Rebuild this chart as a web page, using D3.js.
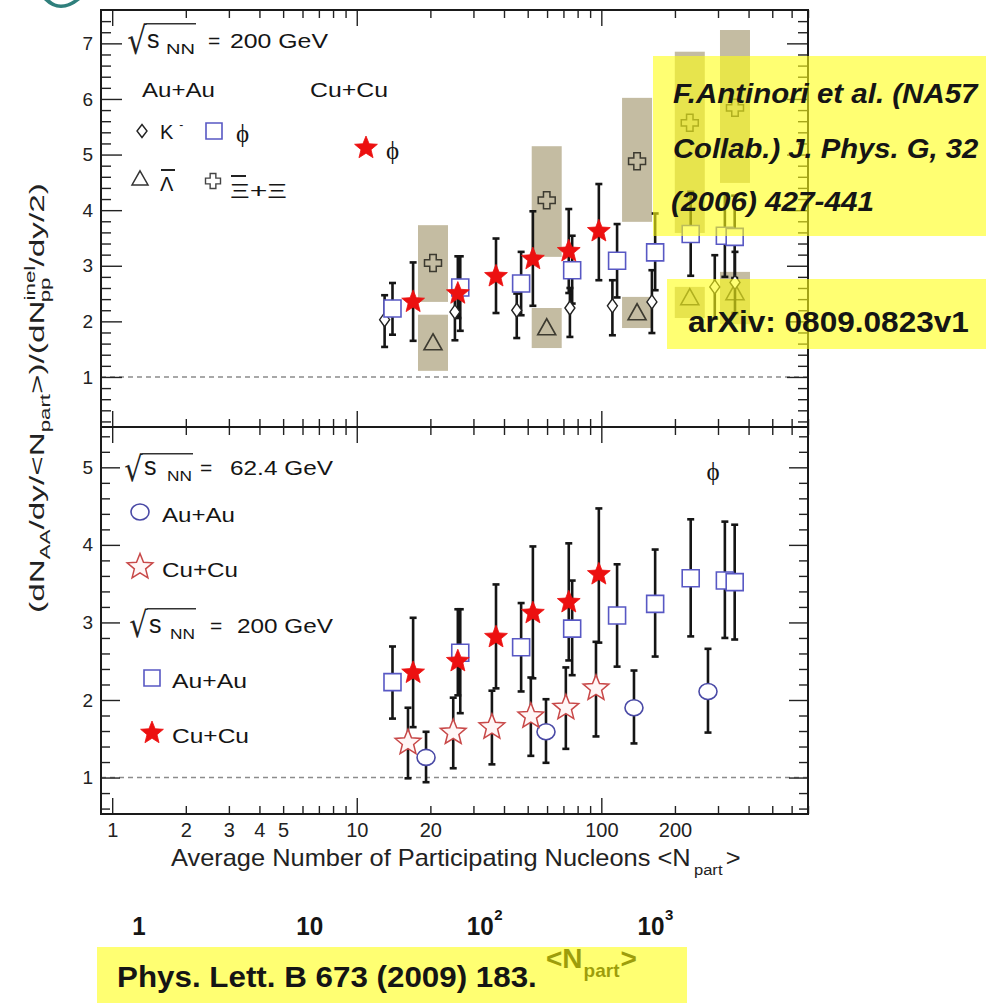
<!DOCTYPE html>
<html><head><meta charset="utf-8">
<script src="https://cdn.jsdelivr.net/npm/d3@7/dist/d3.min.js"></script>
<style>html,body{margin:0;padding:0;background:#fff;}svg{display:block;}</style>
</head><body>
<svg id="chart" width="986" height="1003"></svg>
<script>
// ---------------- data ----------------
const yTickLabelsTop = ["1","2","3","4","5","6","7"];
const yTickLabelsBottom = ["1","2","3","4","5"];
const xTickLabels = ["1","2","3","4","5","10","20","100","200"];
const npartAxisLabels = ["1","10","10","10"];
const npartAxisExponents = ["","","2","3"];

// STAR phi, Au+Au 200 GeV
const npartAuAu200 = [14, 26.5, 47, 76, 116, 166, 232, 320, 351];
const phiAuAu200   = [2.23, 2.61, 2.68, 2.92, 3.09, 3.24, 3.57, 3.54, 3.52];
const phiAuAu200Hi = [2.69, 3.17, 3.25, 3.54, 3.75, 3.94, 4.33, 4.30, 4.26];
const phiAuAu200Lo = [1.76, 1.83, 2.11, 2.32, 2.43, 2.56, 2.82, 2.80, 2.78];
// STAR phi, Cu+Cu 200 GeV
const npartCuCu200 = [17, 25.9, 37.1, 52.5, 73.6, 97.7];
const phiCuCu200   = [2.35, 2.50, 2.81, 3.12, 3.26, 3.62];
const phiCuCu200Hi = [3.06, 3.17, 3.49, 3.98, 4.02, 4.47];
const phiCuCu200Lo = [1.65, 2.06, 2.15, 2.28, 2.51, 2.74];
// STAR phi, Cu+Cu 62.4 GeV
const npartCuCu62 = [16.2, 24.8, 35.7, 51.5, 71.6, 95.1];
const phiCuCu62   = [1.45, 1.58, 1.65, 1.79, 1.90, 2.15];
const phiCuCu62Hi = [1.90, 2.03, 2.12, 2.29, 2.42, 2.75];
const phiCuCu62Lo = [0.99, 1.12, 1.17, 1.28, 1.37, 1.53];
// STAR phi, Au+Au 62.4 GeV
const npartAuAu62 = [19.2, 59.4, 136, 273];
const phiAuAu62   = [1.26, 1.59, 1.90, 2.11];
const phiAuAu62Hi = [1.59, 2.01, 2.38, 2.66];
const phiAuAu62Lo = [0.94, 1.19, 1.44, 1.58];
// STAR K-, Au+Au 200 GeV
const npartKminus = [13, 25.2, 45.1, 74.4, 111, 161, 291, 352];
const kMinus   = [2.03, 2.17, 2.20, 2.24, 2.28, 2.35, 2.62, 2.70];
const kMinusHi = [2.47, 2.56, 2.50, 2.60, 2.74, 2.92, 3.19, 3.25];
const kMinusLo = [1.54, 1.66, 1.70, 1.72, 1.75, 1.79, 2.05, 2.15];
// NA57 (overlay): Xi+antiXi and anti-Lambda with systematic bands
const na57Npart = [20.5, 59.8, 140, 230, 352];
const xiVal = [3.05, 4.18, 4.88, 5.57, 5.84];
const xiLo  = [2.35, 3.16, 3.79, 3.59, 4.49];
const xiHi  = [3.73, 5.15, 6.02, 6.85, 7.24];
const lamVal = [1.61, 1.88, 2.15, 2.42, 2.51];
const lamLo  = [1.11, 1.52, 1.88, 2.06, 1.95];
const lamHi  = [2.12, 2.24, 2.44, 2.62, 2.89];

// ---------------- setup ----------------
const svg = d3.select("#chart");
const FONT = "'Liberation Sans', Arial, Helvetica, sans-serif";
const SERIF = "'Liberation Serif', 'DejaVu Serif', 'Times New Roman', serif";
const L = 101, R = 808;
const xs = d3.scaleLog().domain([0.9, 700]).range([L, R]);
const yTop = d3.scaleLinear().domain([0.1, 7.6]).range([427, 10]);
const yBot = d3.scaleLinear().domain([0.53, 5.52]).range([814, 427]);
const xNpart = d3.scaleLog().domain([1, 1000]).range([139, 651]);

const C = {
  blue: "#5858c4", circle: "#4a4aa6", red: "#ec1010", hollow: "#c84848",
  tan: "#c4bca2", nmark: "#3c3a30", ink: "#151515", dash: "#8c8c8c",
  yellow: "rgb(255,255,20)"
};

// shapes
function starD(Ro, ratio) {
  let p = "";
  for (let i = 0; i < 10; i++) {
    const a = -Math.PI / 2 + i * Math.PI / 5, rr = i % 2 ? Ro * ratio : Ro;
    p += (i ? "L" : "M") + (rr * Math.cos(a)).toFixed(2) + "," + (rr * Math.sin(a)).toFixed(2);
  }
  return p + "Z";
}
const crossD = s => { const a = s / 2, b = s * 0.19;
  return `M${-b},${-a}H${b}V${-b}H${a}V${b}H${b}V${a}H${-b}V${b}H${-a}V${-b}H${-b}Z`; };
const triD = (w, h) => `M0,${-h * 0.58}L${w / 2},${h * 0.42}L${-w / 2},${h * 0.42}Z`;
const diaD = (w, h) => `M0,${-h / 2}L${w / 2},0L0,${h / 2}L${-w / 2},0Z`;
const sqD = s => `M${-s / 2},${-s / 2}H${s / 2}V${s / 2}H${-s / 2}Z`;

function marker(g, d, x, y, stroke, fill, sw) {
  g.append("path").attr("d", d).attr("transform", `translate(${x},${y})`)
    .attr("fill", fill).attr("stroke", stroke).attr("stroke-width", sw || 1.6)
    .attr("stroke-linejoin", "miter");
}

function addText(parent, x, y, parts, o) {
  o = o || {};
  const g = parent.append("g").attr("transform", `translate(${x},${y})`);
  const t = g.append("text").attr("font-family", o.family || FONT)
    .attr("font-size", o.size || 20).attr("text-anchor", o.anchor || "start")
    .attr("fill", o.fill || C.ink).style("white-space", "pre");
  if (o.weight) t.attr("font-weight", o.weight);
  if (o.italic) t.attr("font-style", "italic");
  if (typeof parts === "string") parts = [{ t: parts }];
  parts.forEach(p => {
    const ts = t.append("tspan").text(p.t);
    if (p.size) ts.attr("font-size", p.size);
    if (p.dy) ts.attr("dy", p.dy);
    if (p.dx) ts.attr("dx", p.dx);
    if (p.family) ts.attr("font-family", p.family);
  });
  if (o.width) {
    const bw = t.node().getBBox().width;
    if (bw > 0) t.attr("transform", `scale(${o.width / bw},1)`);
  }
  return { g, t };
}

// place a glyph so that its ink fills a given box
const measureCtx = document.createElement("canvas").getContext("2d");
function glyphInBox(parent, str, family, x0, x1, y0, y1, fill) {
  const S0 = 40;
  measureCtx.font = `${S0}px ${family}`;
  const m = measureCtx.measureText(str);
  const h = m.actualBoundingBoxAscent + m.actualBoundingBoxDescent;
  const S = S0 * (y1 - y0) / h;
  const f = S / S0;
  const w = (m.actualBoundingBoxLeft + m.actualBoundingBoxRight) * f;
  const k = (x1 - x0) / w;
  const g = parent.append("g").attr("transform", `translate(${x0},0) scale(${k},1)`);
  g.append("text").attr("x", m.actualBoundingBoxLeft * f).attr("y", y0 + m.actualBoundingBoxAscent * f)
    .attr("font-family", family).attr("font-size", S).attr("fill", fill || "#222").text(str);
}

// ---------------- panel helper ----------------
function drawFrame(g, y, y0, y1, yMaj, yMin, yLabels, majLen, minLen) {
  const xMaj = [1, 10, 100];
  const xMin = [];
  [1, 10, 100].forEach(d => { for (let k = 2; k <= 9; k++) if (d * k <= 700) xMin.push(d * k); });
  const style = sel => { sel.select(".domain").remove(); sel.selectAll("line").attr("stroke", "#222").attr("stroke-width", 1.4); sel.selectAll("text").remove(); };
  g.append("g").attr("transform", `translate(0,${y0})`).call(d3.axisBottom(xs).tickValues(xMaj).tickSize(-16)).call(style);
  g.append("g").attr("transform", `translate(0,${y0})`).call(d3.axisBottom(xs).tickValues(xMin).tickSize(-8)).call(style);
  g.append("g").attr("transform", `translate(0,${y1})`).call(d3.axisTop(xs).tickValues(xMaj).tickSize(-16)).call(style);
  g.append("g").attr("transform", `translate(0,${y1})`).call(d3.axisTop(xs).tickValues(xMin).tickSize(-8)).call(style);
  g.append("g").attr("transform", `translate(${L},0)`).call(d3.axisLeft(y).tickValues(yMaj).tickSize(-majLen)).call(style);
  g.append("g").attr("transform", `translate(${L},0)`).call(d3.axisLeft(y).tickValues(yMin).tickSize(-minLen)).call(style);
  g.append("g").attr("transform", `translate(${R},0)`).call(d3.axisRight(y).tickValues(yMaj).tickSize(-majLen)).call(style);
  g.append("g").attr("transform", `translate(${R},0)`).call(d3.axisRight(y).tickValues(yMin).tickSize(-minLen)).call(style);
  const lab = g.append("g").attr("transform", `translate(${L},0)`)
    .call(d3.axisLeft(y).tickValues(yMaj).tickSize(0).tickPadding(8).tickFormat((d, i) => yLabels[i]));
  lab.select(".domain").remove();
  lab.selectAll("text").attr("font-family", FONT).attr("font-size", 19).attr("fill", "#222");
  g.append("rect").attr("x", L).attr("y", y1).attr("width", R - L).attr("height", y0 - y1)
    .attr("fill", "none").attr("stroke", "#1a1a1a").attr("stroke-width", 2);
}

function dashedOne(g, y) {
  g.append("line").attr("x1", L).attr("x2", R).attr("y1", y(1)).attr("y2", y(1))
    .attr("stroke", C.dash).attr("stroke-width", 1.6).attr("stroke-dasharray", "5,4");
}

function errorBars(g, y, n, lo, hi) {
  const idx = d3.range(n.length);
  g.append("g").selectAll("line").data(idx).join("line")
    .attr("x1", i => xs(n[i])).attr("x2", i => xs(n[i]))
    .attr("y1", i => y(lo[i])).attr("y2", i => y(hi[i]))
    .attr("stroke", C.ink).attr("stroke-width", 2.6);
  [lo, hi].forEach(arr => {
    g.append("g").selectAll("line").data(idx).join("line")
      .attr("x1", i => xs(n[i]) - 3.5).attr("x2", i => xs(n[i]) + 3.5)
      .attr("y1", i => y(arr[i])).attr("y2", i => y(arr[i]))
      .attr("stroke", C.ink).attr("stroke-width", 2.6);
  });
}

function series(g, y, n, v, d, stroke, fill, sw) {
  g.append("g").selectAll("path").data(d3.range(n.length)).join("path")
    .attr("d", d).attr("transform", i => `translate(${xs(n[i])},${y(v[i])})`)
    .attr("fill", fill).attr("stroke", stroke).attr("stroke-width", sw || 1.6);
}

// sqrt(s_NN) = value ; b = {l, r, top, bot} of the radical ink
function sqrtLabel(g, b, base, sX, nnX, nnEnd, eqX, valX, valText, valW) {
  glyphInBox(g, "√", "'DejaVu Sans'", b.l, b.r, b.top, b.bot, "#222");
  g.append("line").attr("x1", b.r - 1).attr("x2", nnEnd + 1).attr("y1", b.top + 0.7).attr("y2", b.top + 0.7)
    .attr("stroke", "#333").attr("stroke-width", 1.4);
  addText(g, sX, base, "s", { size: 25 });
  addText(g, nnX, base + 6, "NN", { size: 15, width: nnEnd - nnX });
  addText(g, eqX, base, "=", { size: 21 });
  addText(g, valX, base, valText, { size: 21, width: valW });
}

// ---------------- TOP PANEL ----------------
const gT = svg.append("g");
gT.append("g").selectAll("rect").data(d3.range(na57Npart.length)).join("rect")
  .attr("x", i => xs(na57Npart[i]) - 15).attr("width", 30)
  .attr("y", i => yTop(xiHi[i])).attr("height", i => yTop(xiLo[i]) - yTop(xiHi[i]))
  .attr("fill", C.tan);
gT.append("g").selectAll("rect").data(d3.range(na57Npart.length)).join("rect")
  .attr("x", i => xs(na57Npart[i]) - 15).attr("width", 30)
  .attr("y", i => yTop(lamHi[i])).attr("height", i => yTop(lamLo[i]) - yTop(lamHi[i]))
  .attr("fill", C.tan);
series(gT, yTop, na57Npart, xiVal, crossD(17), C.nmark, "none", 1.5);
series(gT, yTop, na57Npart, lamVal, triD(18, 16), C.nmark, "none", 1.6);
dashedOne(gT, yTop);
errorBars(gT, yTop, npartKminus, kMinusLo, kMinusHi);
errorBars(gT, yTop, npartAuAu200, phiAuAu200Lo, phiAuAu200Hi);
errorBars(gT, yTop, npartCuCu200, phiCuCu200Lo, phiCuCu200Hi);
series(gT, yTop, npartKminus, kMinus, diaD(10, 14), "#222", "#fff", 1.4);
series(gT, yTop, npartAuAu200, phiAuAu200, sqD(17), C.blue, "#fff", 1.6);
series(gT, yTop, npartCuCu200, phiCuCu200, starD(12, 0.44), C.red, C.red, 0.8);
drawFrame(gT, yTop, 427, 10, [1, 2, 3, 4, 5, 6, 7],
  d3.range(2, 76, 2).map(d => d / 10).filter(d => d % 1 !== 0),
  yTickLabelsTop, 21, 10);

// top legend
sqrtLabel(gT, { l: 128, r: 147, top: 23, bot: 55 }, 48, 147, 166, 195, 208, 230, "200 GeV", 98);
addText(gT, 142, 97, "Au+Au", { size: 20, width: 73 });
addText(gT, 310, 97, "Cu+Cu", { size: 20, width: 78 });
marker(gT, diaD(10, 13), 142, 131, "#222", "none", 1.4);
addText(gT, 160, 139, [{ t: "K" }, { t: "-", size: 12, dy: -10, dx: 6 }], { size: 20 });
marker(gT, sqD(16), 214, 131, C.blue, "none", 1.6);
addText(gT, 236, 142, "ϕ", { size: 25, family: SERIF });
marker(gT, starD(12, 0.44), 366, 148, C.red, C.red, 0.8);
addText(gT, 386, 159, "ϕ", { size: 25, family: SERIF });
marker(gT, triD(16, 14), 140, 179, "#333", "none", 1.5);
addText(gT, 160, 191, "Λ", { size: 20 });
gT.append("line").attr("x1", 161).attr("x2", 175).attr("y1", 170).attr("y2", 170).attr("stroke", "#222").attr("stroke-width", 2);
marker(gT, crossD(15), 213, 181, "#444", "none", 1.4);
addText(gT, 230, 198, "Ξ+Ξ", { size: 21, width: 57 });
gT.append("line").attr("x1", 231).attr("x2", 246).attr("y1", 176).attr("y2", 176).attr("stroke", "#222").attr("stroke-width", 2);

// ---------------- BOTTOM PANEL ----------------
const gB = svg.append("g");
dashedOne(gB, yBot);
errorBars(gB, yBot, npartAuAu62, phiAuAu62Lo, phiAuAu62Hi);
errorBars(gB, yBot, npartCuCu62, phiCuCu62Lo, phiCuCu62Hi);
errorBars(gB, yBot, npartAuAu200, phiAuAu200Lo, phiAuAu200Hi);
errorBars(gB, yBot, npartCuCu200, phiCuCu200Lo, phiCuCu200Hi);
gB.append("g").selectAll("ellipse").data(d3.range(npartAuAu62.length)).join("ellipse")
  .attr("cx", i => xs(npartAuAu62[i])).attr("cy", i => yBot(phiAuAu62[i]))
  .attr("rx", 9).attr("ry", 8).attr("fill", "#fff").attr("stroke", C.circle).attr("stroke-width", 1.6);
series(gB, yBot, npartCuCu62, phiCuCu62, starD(13.5, 0.44), C.hollow, "#fff6f6", 1.5);
series(gB, yBot, npartAuAu200, phiAuAu200, sqD(17), C.blue, "#fff", 1.6);
series(gB, yBot, npartCuCu200, phiCuCu200, starD(12, 0.44), C.red, C.red, 0.8);
drawFrame(gB, yBot, 814, 427, [1, 2, 3, 4, 5],
  d3.range(6, 56, 2).map(d => d / 10).filter(d => d % 1 !== 0),
  yTickLabelsBottom, 19, 9);

const xl = gB.append("g").attr("transform", "translate(0,814)")
  .call(d3.axisBottom(xs).tickValues([1, 2, 3, 4, 5, 10, 20, 100, 200]).tickSize(0).tickPadding(9)
    .tickFormat((d, i) => xTickLabels[i]));
xl.select(".domain").remove();
xl.selectAll("text").attr("font-family", FONT).attr("font-size", 20).attr("fill", "#222");

// bottom legend
sqrtLabel(gB, { l: 125, r: 143, top: 453, bot: 482 }, 475, 144, 167, 192, 200, 230, "62.4 GeV", 103);
marker(gB, "M-9,0A9,8 0 1,0 9,0A9,8 0 1,0 -9,0Z", 140, 512, C.circle, "none", 1.6);
addText(gB, 162, 522, "Au+Au", { size: 20, width: 73 });
marker(gB, starD(13.5, 0.44), 140, 567, C.hollow, "#fff6f6", 1.5);
addText(gB, 162, 577, "Cu+Cu", { size: 20, width: 76 });
sqrtLabel(gB, { l: 130, r: 148, top: 608, bot: 638 }, 633, 149, 170, 195, 210, 237, "200 GeV", 96);
marker(gB, sqD(16), 152, 678, C.blue, "none", 1.6);
addText(gB, 172, 688, "Au+Au", { size: 20, width: 75 });
marker(gB, starD(12, 0.44), 152, 733, C.red, C.red, 0.8);
addText(gB, 172, 743, "Cu+Cu", { size: 20, width: 77 });
addText(gB, 713, 480, "ϕ", { size: 25, family: SERIF, anchor: "middle" });

// axis titles
addText(svg, 171, 866, [{ t: "Average Number of Participating Nucleons <N" },
  { t: "part", size: 15, dy: 9, dx: 3 }, { t: ">", dy: -9, dx: 3 }], { size: 23, width: 570, fill: "#222" });
const yt = svg.append("g").attr("transform", "translate(44,398) rotate(-90)");
addText(yt, 0, 0, [
  { t: "(dN" }, { t: "AA", size: 14, dy: 6 }, { t: "/dy/<N", dy: -6 },
  { t: "part", size: 14, dy: 6 }, { t: ">)/(dN", dy: -6 },
  { t: "inel", size: 14, dy: -9 }, { t: "pp", size: 14, dy: 15, dx: -23 },
  { t: "/dy/2)", dy: -6, dx: 7 }
], { size: 21, anchor: "middle", width: 430, fill: "#222" });

// teal decoration, top-left
svg.append("path").attr("d", "M44,0 Q60,16 80,0 L74,0 Q60,9 50,0 Z").attr("fill", "#2f7f7c");

// ---------------- overlays ----------------
npartAxisLabels.forEach((lab, i) => {
  const v = Math.pow(10, i);
  addText(svg, xNpart(v), 935, lab, { size: 25, weight: "bold", anchor: "middle", width: lab.length * 13.5 });
  if (npartAxisExponents[i]) addText(svg, xNpart(v) + 14, 920, npartAxisExponents[i], { size: 15, weight: "bold" });
});
addText(svg, 546, 968, [{ t: "<N" }, { t: "part", size: 19, dy: 9, dx: 1 }, { t: ">", dy: -9, dx: 1 }],
  { size: 28, fill: "#0a0a00", weight: "bold" });

const yellowBoxes = svg.append("g").attr("fill", C.yellow).attr("fill-opacity", 0.6);
yellowBoxes.append("rect").attr("x", 653).attr("y", 56).attr("width", 340).attr("height", 180);
yellowBoxes.append("rect").attr("x", 667).attr("y", 279).attr("width", 330).attr("height", 70);
yellowBoxes.append("rect").attr("x", 97).attr("y", 947).attr("width", 590).attr("height", 60);

addText(svg, 673, 103, "F.Antinori et al. (NA57", { size: 28, weight: "bold", italic: true, width: 306 });
addText(svg, 673, 158, "Collab.) J. Phys. G, 32", { size: 28, weight: "bold", italic: true, width: 306 });
addText(svg, 671, 211, "(2006) 427-441", { size: 28, weight: "bold", italic: true, width: 203 });
addText(svg, 688, 332, "arXiv: 0809.0823v1", { size: 29, weight: "bold", width: 281 });
addText(svg, 117, 987, "Phys. Lett. B 673 (2009) 183.", { size: 30, weight: "bold", width: 420 });
</script>
</body></html>
